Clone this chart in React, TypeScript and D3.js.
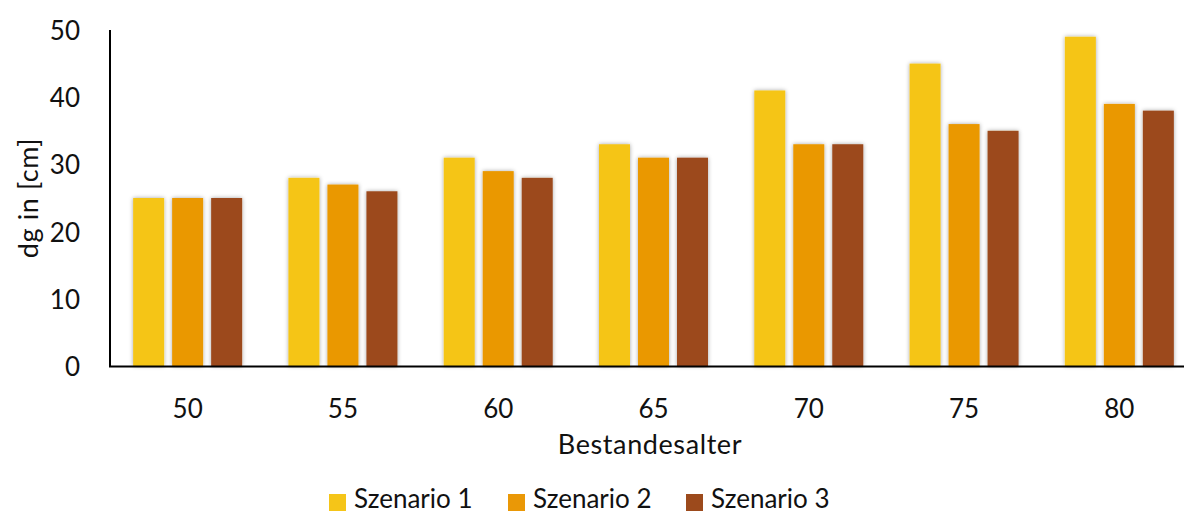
import React from "react";
import * as d3 from "d3";

const categories = ["50", "55", "60", "65", "70", "75", "80"];
const seriesNames = ["Szenario 1", "Szenario 2", "Szenario 3"];
const szenario1 = [25, 28, 31, 33, 41, 45, 49];
const szenario2 = [25, 27, 29, 31, 33, 36, 39];
const szenario3 = [25, 26, 28, 31, 33, 35, 38];
const yTicks = [0, 10, 20, 30, 40, 50];
const colors = ["#F5C518", "#EA9806", "#9C4A1C"];

const W = 1184;
const H = 514;
const FONT = "Lato, 'Open Sans', sans-serif";
const FS = 26;
const TITLE_FS = 27;

export default function App() {
  const series = [szenario1, szenario2, szenario3];
  const x = d3.scaleBand<string>().domain(categories).range([110, 1197]).paddingInner(0).paddingOuter(0);
  const y = d3.scaleLinear().domain([0, 50]).range([366, 30]);
  const barW = 31;
  const gap = 8;
  const groupW = barW * 3 + gap * 2;

  const legendX = [329, 508, 686];

  return (
    <svg
      width={W}
      height={H}
      style={{ position: "absolute", left: 0, top: 0, background: "#fff" }}
      fontFamily={FONT}
    >
      <defs>
        <filter id="barShadow" x="-30%" y="-10%" width="160%" height="120%">
          <feDropShadow dx="0" dy="0" stdDeviation="2.2" floodColor="#000" floodOpacity="0.35" />
        </filter>
      </defs>
      <rect x={0} y={0} width={W} height={H} fill="#fff" />

      {/* bars */}
      {categories.map((c, i) => {
        const cx = (x(c) ?? 0) + x.bandwidth() / 2;
        const x0 = cx - groupW / 2;
        return (
          <g key={c}>
            {series.map((s, j) => (
              <rect
                key={j}
                x={x0 + j * (barW + gap)}
                y={y(s[i])}
                width={barW}
                height={y(0) - y(s[i])}
                fill={colors[j]}
                filter="url(#barShadow)"
              />
            ))}
          </g>
        );
      })}

      {/* axes */}
      <line x1={110} x2={110} y1={30} y2={367} stroke="#000" strokeWidth={2} />
      <line x1={109} x2={W} y1={366.5} y2={366.5} stroke="#000" strokeWidth={2.2} />

      {yTicks.map((t) => (
        <text key={t} x={80} y={y(t)} textAnchor="end" dominantBaseline="central" fontSize={FS} fill="#111">
          {t}
        </text>
      ))}

      {categories.map((c) => (
        <text
          key={c}
          x={(x(c) ?? 0) + x.bandwidth() / 2}
          y={408}
          textAnchor="middle"
          dominantBaseline="central"
          fontSize={FS}
          fill="#111"
        >
          {c}
        </text>
      ))}

      <text
        transform={`translate(27,198) rotate(-90)`}
        textAnchor="middle"
        dominantBaseline="central"
        fontSize={TITLE_FS}
        letterSpacing={0.6}
        fill="#111"
      >
        dg in [cm]
      </text>

      <text x={650} y={443} textAnchor="middle" dominantBaseline="central" fontSize={TITLE_FS} letterSpacing={0.6} fill="#111">
        Bestandesalter
      </text>

      {/* legend */}
      {seriesNames.map((n, j) => (
        <g key={n}>
          <rect x={legendX[j]} y={494} width={17} height={17} fill={colors[j]} />
          <text x={legendX[j] + 25} y={498} dominantBaseline="central" fontSize={FS} fill="#111">
            {n}
          </text>
        </g>
      ))}
    </svg>
  );
}
